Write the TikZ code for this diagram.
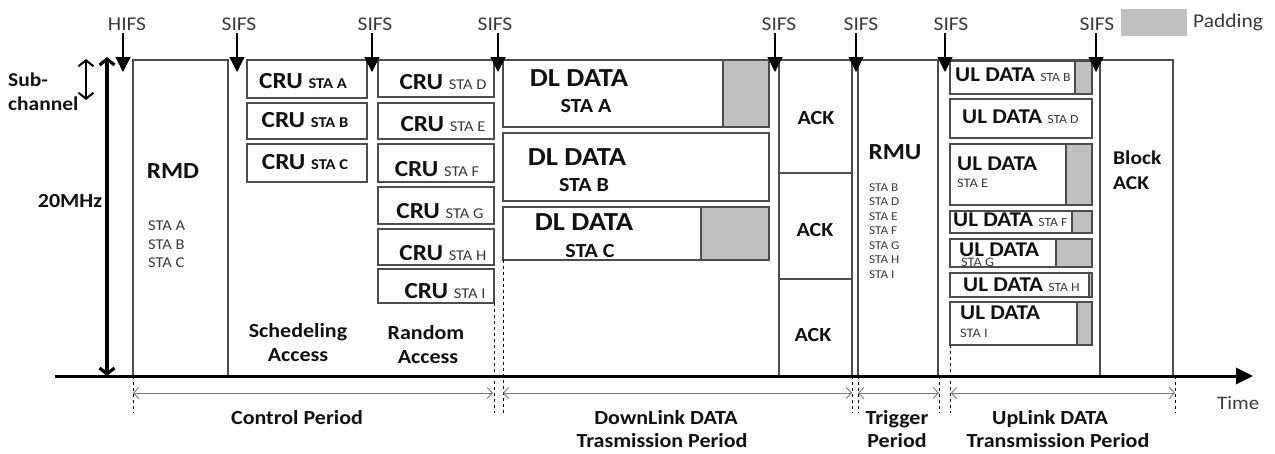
\documentclass[tikz,border=0pt]{standalone}
\usepackage{fontspec}
\setmainfont{Carlito}[FakeStretch=1.1]
\usetikzlibrary{arrows.meta}
\definecolor{edge}{HTML}{4D4D4D}
\definecolor{pad}{HTML}{C0C0C0}
\definecolor{ink}{HTML}{111111}
\definecolor{soft}{HTML}{3A3A3A}
\definecolor{perline}{HTML}{7A7A7A}
\tikzset{
  box/.style={draw=edge, line width=1.2pt},
  padbox/.style={draw=edge, fill=pad, line width=1.2pt},
  bold/.style={font=\fontsize{#1}{#1}\selectfont\bfseries, text=ink, inner sep=0pt, anchor=base},
  plain/.style={font=\fontsize{#1}{#1}\selectfont, text=soft, inner sep=0pt, anchor=base},
  sifs/.style={font=\fontsize{19.5}{19.5}\selectfont, text=soft, inner sep=0pt, anchor=base},
  tick/.style={line width=1.2pt, -{Triangle[length=15pt,width=15pt]}, shorten <=3pt},
  period/.style={draw=perline, line width=0.9pt,
    {Straight Barb[length=5pt,width=11pt]}-{Straight Barb[length=5pt,width=11pt]}},
  guide/.style={draw=black, line width=0.8pt, dash pattern=on 3pt off 3pt},
  bw/.style={line width=#1, {Straight Barb[length=6pt,width=15pt]}-{Straight Barb[length=6pt,width=15pt]}},
}
\newcommand{\sm}[1]{{\fontsize{15}{15}\selectfont\bfseries #1}}
\newcommand{\smr}[1]{{\fontsize{15}{15}\selectfont\mdseries\color{soft} #1}}
\newcommand{\smu}[1]{{\fontsize{12.5}{12.5}\selectfont\mdseries\color{soft} #1}}
\begin{document}
\begin{tikzpicture}[x=1pt,y=-1pt]
\useasboundingbox (0,0) rectangle (1275,453);

% ---- frames of the control period ----
\draw[box] (133,60) rectangle (228,376);
\draw[box] (247,60) rectangle (367,98);
\draw[box] (247,103) rectangle (367,139);
\draw[box] (247,144) rectangle (367,182);
\draw[box] (378,60) rectangle (494,97);
\draw[box] (378,103) rectangle (494,139);
\draw[box] (378,144) rectangle (494,182);
\draw[box] (378,187) rectangle (494,224);
\draw[box] (378,229) rectangle (494,265);
\draw[box] (378,269) rectangle (494,303);

% ---- downlink data ----
\draw[box] (503,60) rectangle (769,127);
\draw[padbox] (723,60) rectangle (769,127);
\draw[box] (503,133) rectangle (769,201);
\draw[box] (503,207) rectangle (769,260);
\draw[padbox] (701,207) rectangle (769,260);

% ---- ACK, RMU, Block ACK ----
\draw[box] (779,60) -- (1173,60);
\draw[box] (779,60) rectangle (852,376);
\draw[box] (779,173) -- (852,173);
\draw[box] (779,279) -- (852,279);
\draw[box] (858,60) rectangle (938,376);
\draw[box] (1100,60) rectangle (1173,376);

% ---- uplink data ----
\draw[box] (950,61) rectangle (1092,94);
\draw[padbox] (1075,61) rectangle (1092,94);
\draw[box] (950,99) rectangle (1092,138);
\draw[box] (950,144) rectangle (1092,205);
\draw[padbox] (1066,144) rectangle (1092,205);
\draw[box] (950,211) rectangle (1092,233);
\draw[padbox] (1072,211) rectangle (1092,233);
\draw[box] (950,239) rectangle (1092,267);
\draw[padbox] (1056,239) rectangle (1092,267);
\draw[box] (950,273) rectangle (1092,297);
\draw[padbox] (1089,273) rectangle (1092,297);
\draw[box] (950,302) rectangle (1092,345);
\draw[padbox] (1077,302) rectangle (1092,345);

% ---- legend ----
\fill[pad] (1121,9) rectangle (1187,36);
\node[plain=19.5] (padlbl) at (1193,27) [anchor=base west] {Padding};

% ---- guides below the axis ----
\draw[guide] (133,376) -- (133,413);
\draw[guide] (494,303) -- (494,413);
\draw[guide] (503,260) -- (503,413);
\draw[guide] (852,376) -- (852,413);
\draw[guide] (858,376) -- (858,413);
\draw[guide] (939,376) -- (939,413);
\draw[guide] (950,345) -- (950,413);
\draw[guide] (1175,376) -- (1175,413);

% ---- time axis and bandwidth arrows ----
\coordinate (ax0) at (55,376);
\coordinate (ax1) at (1253,376);
\draw[line width=3pt, -{Triangle[length=17pt,width=16pt]}] (ax0) -- (ax1);
\node[plain=19] (time) at (1217,409) [anchor=base west] {Time};

\coordinate (bwtop) at (107,57);
\coordinate (bwbot) at (107,376);
\draw[bw=3.2pt] (bwtop) -- (bwbot);
\coordinate (sctop) at (86,59);
\coordinate (scbot) at (86,100);
\draw[bw=2pt] (sctop) -- (scbot);
\node[bold=19.5] (sub) at (8,86) [anchor=base west] {Sub-};
\node[bold=19.5] (chan) at (8,110) [anchor=base west] {channel};
\node[bold=20] (mhz) at (70,207) {20MHz};

% ---- interframe spaces ----
\foreach \nm/\lx/\ax/\txt in {h/127/123/HIFS, a/239/237/SIFS, b/375/372/SIFS, c/495/498/SIFS,
    d/779/775/SIFS, e/861/856/SIFS, f/951/945/SIFS, g/1097/1096/SIFS}{
  \node[sifs] (l\nm) at (\lx,30) {\txt};
  \coordinate (t\nm) at (\ax,72);
  \draw[tick] (t\nm |- l\nm.south) -- (t\nm);
}

% ---- labels: control period ----
\node[bold=23] (rmd) at (173,178) {RMD};
\node[plain=15] (rmda) at (148,230) [anchor=base west] {STA A};
\node[plain=15] (rmdb) at (148,249) [anchor=base west] {STA B};
\node[plain=15] (rmdc) at (148,267) [anchor=base west] {STA C};
\node[bold=23] (crua) at (303,88) {CRU \sm{STA A}};
\node[bold=23] (crub) at (305,127) {CRU \sm{STA B}};
\node[bold=23] (cruc) at (305,169) {CRU \sm{STA C}};
\node[bold=23] (crud) at (443,89) {CRU \smr{STA D}};
\node[bold=23] (crue) at (443,131) {CRU \smr{STA E}};
\node[bold=23] (cruf) at (437,176) {CRU \smr{STA F}};
\node[bold=23] (crug) at (440,218) {CRU \smr{STA G}};
\node[bold=23] (cruh) at (443,260) {CRU \smr{STA H}};
\node[bold=23] (crui) at (445,298) {CRU \smr{STA I}};
\node[bold=20] (sch1) at (298,337) {Schedeling};
\node[bold=20] (sch2) at (298,361) {Access};
\node[bold=20] (ra1) at (426,339) {Random};
\node[bold=20] (ra2) at (428,363) {Access};

% ---- labels: downlink ----
\node[bold=26] (dla) at (579,86) {DL DATA};
\node[bold=20] (dlas) at (586,112) {STA A};
\node[bold=26] (dlb) at (577,165) {DL DATA};
\node[bold=20] (dlbs) at (584,191) {STA B};
\node[bold=26] (dlc) at (584,230) {DL DATA};
\node[bold=20] (dlcs) at (590,257) {STA C};
\node[bold=20] (ack1) at (816,124) {ACK};
\node[bold=20] (ack2) at (815,236) {ACK};
\node[bold=20] (ack3) at (813,341) {ACK};

% ---- labels: trigger ----
\node[bold=23] (rmu) at (895,159) {RMU};
\foreach \s/\y in {B/191, D/205, E/220, F/234, G/249, H/263, I/278}
  \node[plain=12] (rmu\s) at (869,\y) [anchor=base west] {STA \s};

% ---- labels: uplink ----
\node[bold=21] (ulb) at (955,81) [anchor=base west] {UL DATA \smu{STA B}};
\node[bold=21] (uld) at (962,123) [anchor=base west] {UL DATA \smu{STA D}};
\node[bold=21] (ule) at (957,170) [anchor=base west] {UL DATA};
\node[plain=13] (ules) at (957,187) [anchor=base west] {STA E};
\node[bold=21] (ulf) at (953,226) [anchor=base west] {UL DATA \smu{STA F}};
\node[bold=21] (ulg) at (959,256) [anchor=base west] {UL DATA};
\node[plain=13] (ulgs) at (961,266) [anchor=base west] {STA G};
\node[bold=21] (ulh) at (963,291) [anchor=base west] {UL DATA \smu{STA H}};
\node[bold=21] (uli) at (960,319) [anchor=base west] {UL DATA};
\node[plain=13] (ulis) at (960,337) [anchor=base west] {STA I};
\node[bold=19.5] (blk1) at (1113,164) [anchor=base west] {Block};
\node[bold=19.5] (blk2) at (1113,189) [anchor=base west] {ACK};

% ---- periods ----
\coordinate (p0) at (133,393);
\coordinate (p1) at (493,393);
\coordinate (p2) at (503,393);
\coordinate (p3) at (852,393);
\coordinate (p4) at (858,393);
\coordinate (p5) at (939,393);
\coordinate (p6) at (951,393);
\coordinate (p7) at (1175,393);
\draw[period] (p0) -- (p1);
\draw[period] (p2) -- (p3);
\draw[period] (p4) -- (p5);
\draw[period] (p6) -- (p7);
\node[bold=20] (cper) at (297,424) {Control Period};
\node[bold=20] (dper1) at (666,424) {DownLink DATA};
\node[bold=20] (dper2) at (662,447) {Trasmission Period};
\node[bold=20] (tper1) at (897,424) {Trigger};
\node[bold=20] (tper2) at (897,447) {Period};
\node[bold=20] (uper1) at (1050,424) {UpLink DATA};
\node[bold=20] (uper2) at (1058,447) {Transmission Period};
\end{tikzpicture}
\end{document}
